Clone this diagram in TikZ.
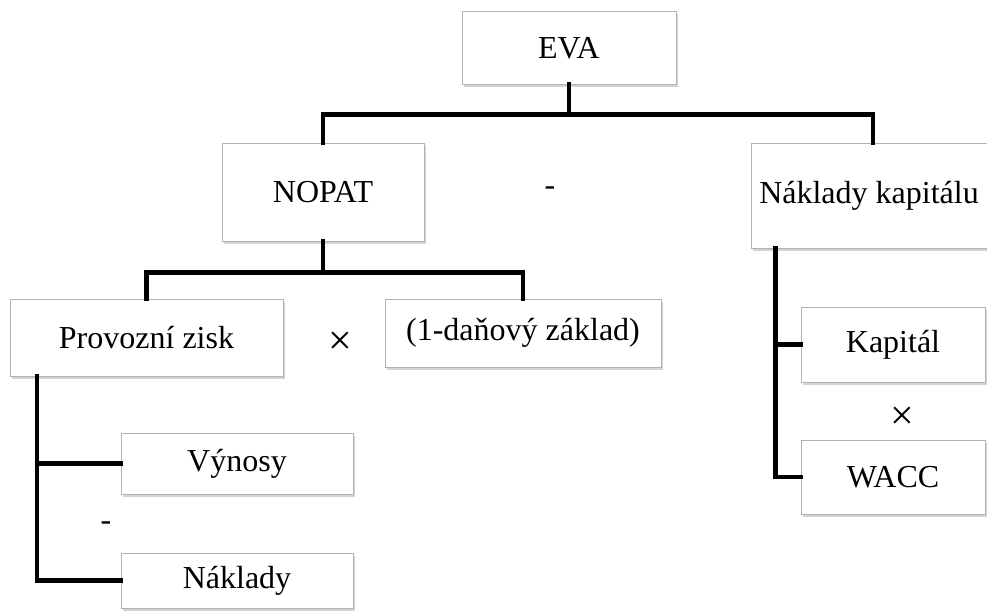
\documentclass[tikz,border=0pt]{standalone}
\usepackage{fontspec}
\setmainfont{Liberation Serif}
\usetikzlibrary{shadows, calc}
\tikzset{
  box/.style={rectangle, draw=gray!60, line width=1pt, fill=white,
    inner sep=2pt, text centered, font=\fontsize{32}{38}\selectfont,
    drop shadow={shadow xshift=2pt, shadow yshift=-2.5pt, opacity=0.35}},
  link/.style={line width=4.5pt, black, line cap=rect},
  oper/.style={font=\fontsize{32}{38}\selectfont},
}
\begin{document}
\begin{tikzpicture}[x=1pt, y=-1pt]
  \useasboundingbox (0,0) rectangle (987,610);
  % top level
  \node[box, minimum width=214pt, minimum height=72pt] (eva) at (569,48) {EVA};
  \node[box, minimum width=202pt, minimum height=98pt] (nopat) at (323,192) {NOPAT};
  \node[box, minimum width=236pt, minimum height=105pt] (nk) at (869,195.5) {Náklady kapitálu};
  % NOPAT branch
  \node[box, minimum width=273pt, minimum height=77pt] (pz) at (146.5,337.5) {Provozní zisk};
  \node[box, minimum width=276pt, minimum height=68pt] (dan) at (523,333) {(1-daňový základ)};
  \node[box, minimum width=232pt, minimum height=61pt] (vyn) at (237,463.5) {Výnosy};
  \node[box, minimum width=232pt, minimum height=55pt] (nakl) at (237,580.5) {Náklady};
  % capital branch
  \node[box, minimum width=184pt, minimum height=75pt] (kap) at (893,344.5) {Kapitál};
  \node[box, minimum width=184pt, minimum height=74pt] (wacc) at (893,477) {WACC};

  % operators
  \node[oper] (op1) at (550,191) {-};
  \node[oper] (op2) at (340,343) {\fontsize{42}{44}\selectfont×};
  \node[oper] (op3) at (902,418) {\fontsize{42}{44}\selectfont×};
  \node[oper] (op4) at (106,526) {-};

  % connectors
  \draw[link] (eva.south) -- ++(0,30) -| (nopat.north);
  \draw[link] (eva.south) -- ++(0,30) -| ($(nk.north)+(4,0)$);
  \draw[link] (nopat.south) -- ++(0,31) -| (pz.north);
  \draw[link] (nopat.south) -- ++(0,31) -| (dan.north);
  \draw[link] ($(pz.south west)!0.1!(pz.south east)$) |- (vyn.west);
  \draw[link] ($(pz.south west)!0.1!(pz.south east)$) |- (nakl.west);
  \draw[link] ($(nk.south west)!0.106!(nk.south east)$) |- (kap.west);
  \draw[link] ($(nk.south west)!0.106!(nk.south east)$) |- (wacc.west);
\end{tikzpicture}
\end{document}
